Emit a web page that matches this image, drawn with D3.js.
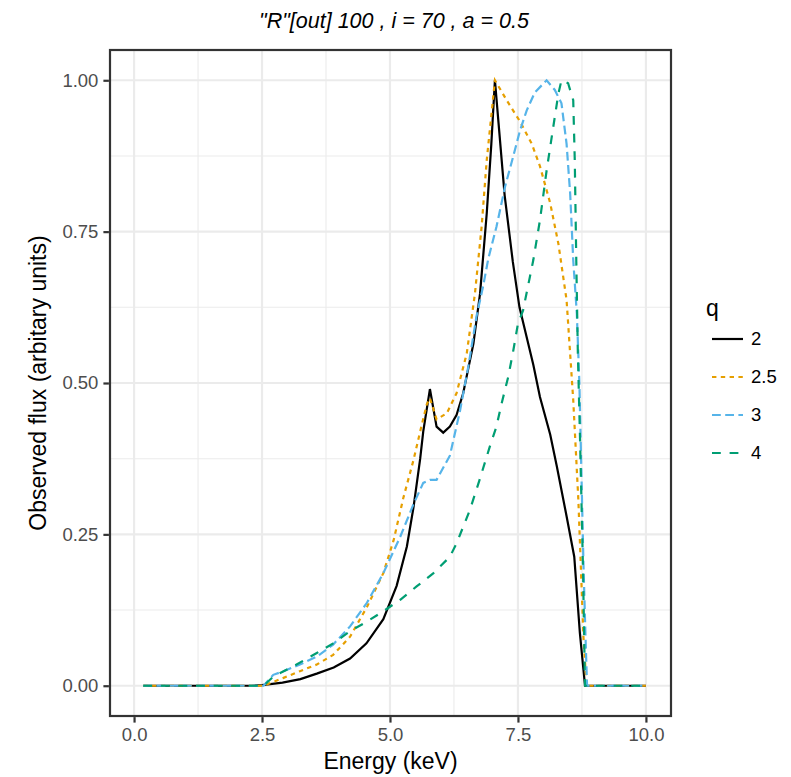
<!DOCTYPE html>
<html>
<head>
<meta charset="utf-8">
<script src="https://cdn.jsdelivr.net/npm/d3@7"></script>
<style>
  body { margin: 0; background: #fff; }
  svg { font-family: "Liberation Sans", Arial, sans-serif; }
</style>
</head>
<body>
<svg id="svg" width="791" height="777"></svg>
<script>
// values
const qLevels = ['2', '2.5', '3', '4'];
const qColours = ['#000000', '#E69F00', '#56B4E9', '#009E73'];
const qDashes = [null, '4.4,4.4', '8.8,4.4', '8.8,8.8'];

const q2Energy = [0.18, 2.3, 2.5, 2.9, 3.25, 3.57, 3.9, 4.22, 4.54, 4.87, 5.13, 5.33, 5.46, 5.59, 5.65, 5.78, 5.91, 6.04, 6.17, 6.30, 6.43, 6.63, 6.76, 6.89, 6.98, 7.05, 7.12, 7.24, 7.40, 7.53, 7.80, 7.93, 8.13, 8.26, 8.45, 8.60, 8.71, 8.81, 10.0];
const q2Flux   = [0, 0, 0.001, 0.005, 0.011, 0.02, 0.03, 0.045, 0.07, 0.11, 0.165, 0.23, 0.295, 0.375, 0.42, 0.49, 0.428, 0.418, 0.428, 0.447, 0.483, 0.565, 0.648, 0.78, 0.895, 1.0, 0.93, 0.81, 0.70, 0.625, 0.53, 0.477, 0.415, 0.362, 0.28, 0.213, 0.087, 0, 0];

const q25Energy = [0.18, 2.53, 2.92, 3.24, 3.57, 3.89, 4.22, 4.55, 4.87, 5.07, 5.26, 5.46, 5.59, 5.72, 5.78, 5.91, 6.11, 6.30, 6.50, 6.66, 6.79, 6.89, 7.05, 7.28, 7.54, 7.77, 7.93, 8.13, 8.29, 8.45, 8.58, 8.68, 8.74, 8.78, 8.84, 10.0];
const q25Flux   = [0, 0, 0.013, 0.024, 0.035, 0.051, 0.081, 0.13, 0.186, 0.24, 0.31, 0.373, 0.42, 0.465, 0.475, 0.44, 0.45, 0.483, 0.549, 0.648, 0.758, 0.868, 1.0, 0.967, 0.932, 0.895, 0.858, 0.797, 0.73, 0.637, 0.472, 0.307, 0.17, 0.08, 0, 0];

const q3Energy = [0.18, 2.53, 2.72, 2.92, 3.24, 3.57, 3.89, 4.22, 4.55, 4.87, 5.20, 5.46, 5.65, 5.78, 5.91, 6.17, 6.37, 6.53, 6.69, 6.82, 6.92, 7.08, 7.25, 7.41, 7.54, 7.67, 7.83, 8.06, 8.22, 8.35, 8.45, 8.52, 8.58, 8.65, 8.70, 8.74, 8.78, 8.82, 8.85, 10.0];
const q3Flux   = [0, 0, 0.018, 0.024, 0.035, 0.048, 0.068, 0.098, 0.137, 0.186, 0.246, 0.30, 0.335, 0.34, 0.34, 0.38, 0.455, 0.527, 0.61, 0.66, 0.705, 0.758, 0.825, 0.875, 0.917, 0.95, 0.98, 1.0, 0.984, 0.962, 0.895, 0.813, 0.703, 0.615, 0.5, 0.35, 0.2, 0.08, 0, 0];

const q4Energy = [0.18, 2.53, 2.72, 3.11, 3.57, 3.89, 4.22, 4.55, 4.87, 5.20, 5.52, 5.85, 6.17, 6.30, 6.56, 6.75, 6.95, 7.08, 7.18, 7.31, 7.41, 7.50, 7.60, 7.80, 7.93, 8.06, 8.19, 8.29, 8.35, 8.48, 8.58, 8.61, 8.64, 8.67, 8.71, 8.74, 8.77, 8.81, 10.0];
const q4Flux   = [0, 0, 0.015, 0.032, 0.054, 0.07, 0.09, 0.106, 0.123, 0.142, 0.164, 0.186, 0.213, 0.235, 0.29, 0.34, 0.395, 0.428, 0.466, 0.51, 0.554, 0.598, 0.62, 0.703, 0.769, 0.851, 0.923, 0.978, 1.0, 0.995, 0.967, 0.868, 0.70, 0.55, 0.417, 0.307, 0.197, 0, 0];

const xTicks = [0, 2.5, 5, 7.5, 10];
const xMinor = [1.25, 3.75, 6.25, 8.75];
const yTicks = [0, 0.25, 0.5, 0.75, 1];
const yMinor = [0.125, 0.375, 0.625, 0.875];

const seriesEnergy = [q2Energy, q25Energy, q3Energy, q4Energy];
const seriesFlux = [q2Flux, q25Flux, q3Flux, q4Flux];

const panel = { left: 110, right: 671, top: 50, bottom: 716 };
const lw = 2.2;

const svg = d3.select('#svg');

const xScale = d3.scaleLinear()
  .domain([-0.47, 10.49])
  .range([panel.left, panel.right]);

const yScale = d3.scaleLinear()
  .domain([-0.05, 1.05])
  .range([panel.bottom, panel.top]);

const plot = svg.append('g');

// grid
plot.selectAll('.minorX')
  .data(xMinor)
  .join('line')
  .attr('x1', d => xScale(d)).attr('x2', d => xScale(d))
  .attr('y1', panel.top).attr('y2', panel.bottom)
  .style('stroke', '#ebebeb').style('stroke-width', 1.1);

plot.selectAll('.minorY')
  .data(yMinor)
  .join('line')
  .attr('x1', panel.left).attr('x2', panel.right)
  .attr('y1', d => yScale(d)).attr('y2', d => yScale(d))
  .style('stroke', '#ebebeb').style('stroke-width', 1.1);

plot.selectAll('.majorX')
  .data(xTicks)
  .join('line')
  .attr('x1', d => xScale(d)).attr('x2', d => xScale(d))
  .attr('y1', panel.top).attr('y2', panel.bottom)
  .style('stroke', '#ebebeb').style('stroke-width', lw);

plot.selectAll('.majorY')
  .data(yTicks)
  .join('line')
  .attr('x1', panel.left).attr('x2', panel.right)
  .attr('y1', d => yScale(d)).attr('y2', d => yScale(d))
  .style('stroke', '#ebebeb').style('stroke-width', lw);

// curves
const line = d3.line()
  .x(d => xScale(d[0]))
  .y(d => yScale(d[1]));

qLevels.forEach((q, i) => {
  const pts = seriesEnergy[i].map((e, j) => [e, seriesFlux[i][j]]);
  plot.append('path')
    .datum(pts)
    .attr('d', line)
    .style('fill', 'none')
    .style('stroke', qColours[i])
    .style('stroke-width', lw)
    .style('stroke-dasharray', qDashes[i]);
});

// panel border
plot.append('rect')
  .attr('x', panel.left).attr('y', panel.top)
  .attr('width', panel.right - panel.left)
  .attr('height', panel.bottom - panel.top)
  .style('fill', 'none')
  .style('stroke', '#333333')
  .style('stroke-width', lw);

// axes
const xAxis = d3.axisBottom(xScale)
  .tickValues(xTicks)
  .tickFormat(d3.format('.1f'))
  .tickSize(5.5)
  .tickPadding(5);

const yAxis = d3.axisLeft(yScale)
  .tickValues(yTicks)
  .tickFormat(d3.format('.2f'))
  .tickSize(5.5)
  .tickPadding(5);

const xAxisG = svg.append('g')
  .attr('transform', `translate(0,${panel.bottom + lw / 2})`)
  .call(xAxis);
const yAxisG = svg.append('g')
  .attr('transform', `translate(${panel.left - lw / 2},0)`)
  .call(yAxis);

[xAxisG, yAxisG].forEach(g => {
  g.select('path.domain').remove();
  g.selectAll('line').style('stroke', '#333333').style('stroke-width', lw);
  g.selectAll('text')
    .style('font-family', '"Liberation Sans", Arial, sans-serif')
    .style('font-size', '18.5px')
    .style('fill', '#4d4d4d');
});

// titles
svg.append('text')
  .attr('x', 394)
  .attr('y', 28)
  .attr('text-anchor', 'middle')
  .style('font-size', '21.5px')
  .style('font-style', 'italic')
  .text('"R"[out] 100 , i = 70 , a = 0.5');

svg.append('text')
  .attr('x', (panel.left + panel.right) / 2)
  .attr('y', 769)
  .attr('text-anchor', 'middle')
  .style('font-size', '23px')
  .text('Energy (keV)');

svg.append('text')
  .attr('transform', `translate(46,${(panel.top + panel.bottom) / 2}) rotate(-90)`)
  .attr('text-anchor', 'middle')
  .style('font-size', '23px')
  .text('Observed flux (arbitary units)');

// legend
const legend = svg.append('g');
legend.append('text')
  .attr('x', 706)
  .attr('y', 316)
  .style('font-size', '23px')
  .text('q');

const keyY = d3.scalePoint()
  .domain(qLevels)
  .range([339, 453]);

legend.selectAll('.keyLine')
  .data(qLevels)
  .join('line')
  .attr('x1', 712).attr('x2', 743)
  .attr('y1', d => keyY(d)).attr('y2', d => keyY(d))
  .style('stroke', (d, i) => qColours[i])
  .style('stroke-width', lw)
  .style('stroke-dasharray', (d, i) => qDashes[i]);

legend.selectAll('.keyLabel')
  .data(qLevels)
  .join('text')
  .attr('x', 751)
  .attr('y', d => keyY(d))
  .attr('dy', '0.35em')
  .style('font-size', '18.5px')
  .text(d => d);
</script>
</body>
</html>
